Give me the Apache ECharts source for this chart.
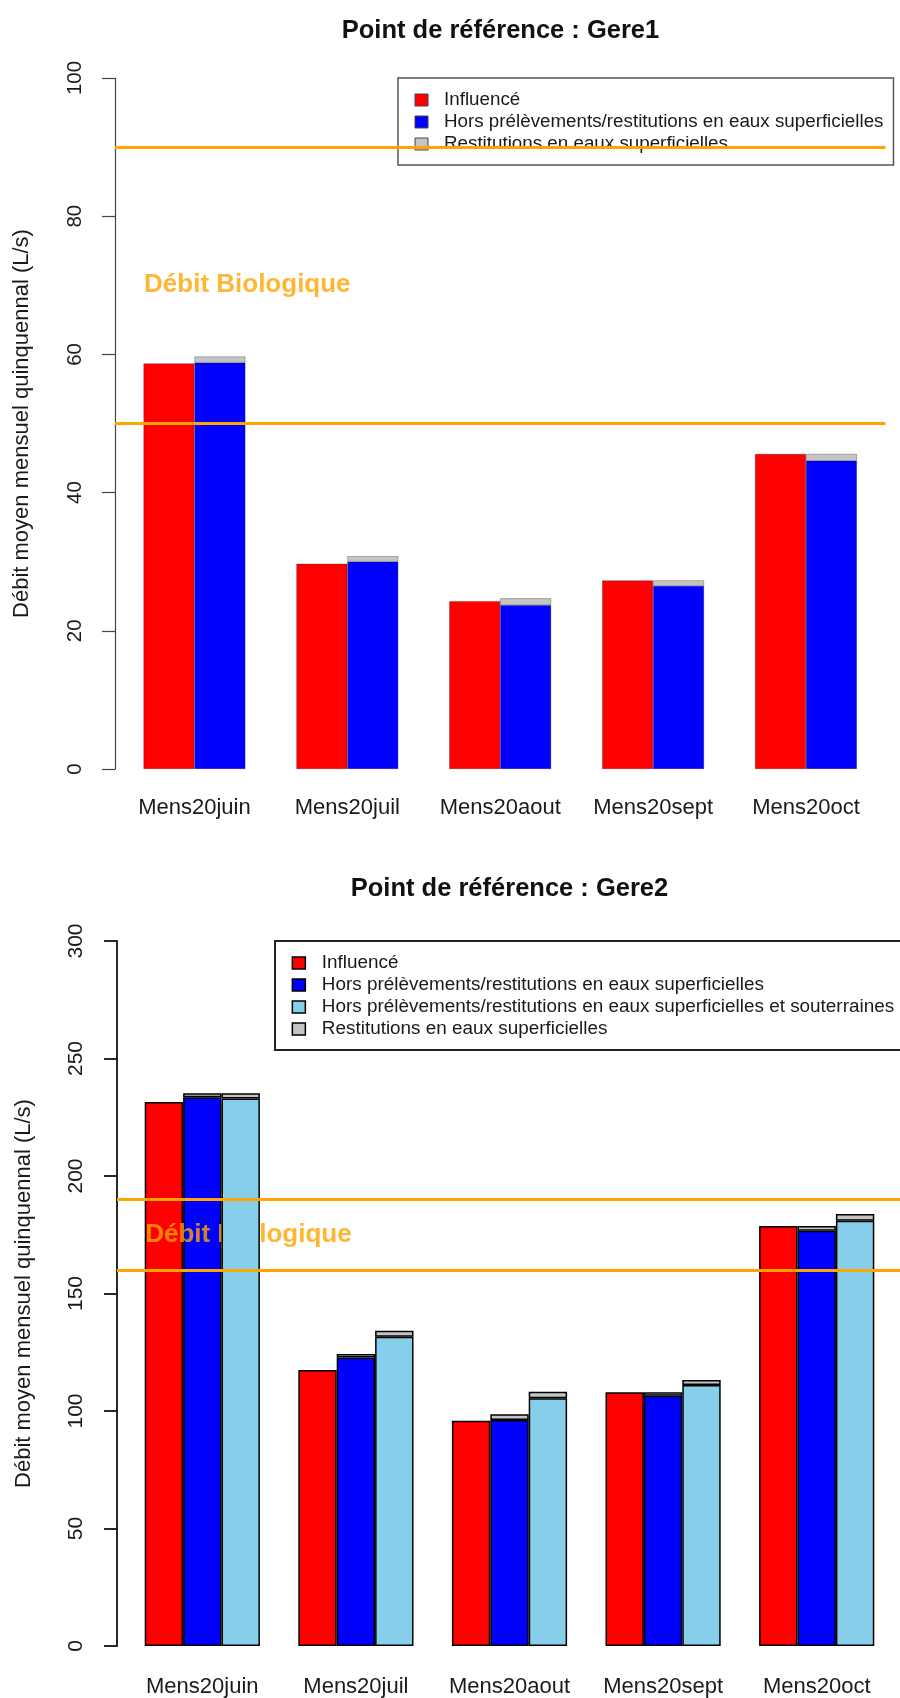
<!DOCTYPE html>
<html>
<head>
<meta charset="utf-8">
<script src="https://cdn.jsdelivr.net/npm/echarts@6/dist/echarts.min.js"></script>
<style>
html,body{margin:0;padding:0;background:#fff;}
#c{width:900px;height:1698px;}
</style>
</head>
<body>
<div id="c"></div>
<script>
// ---------- data ----------
const categories = ['Mens20juin', 'Mens20juil', 'Mens20aout', 'Mens20sept', 'Mens20oct'];
const titles = ['Point de référence : Gere1', 'Point de référence : Gere2'];
const yName = 'Débit moyen mensuel quinquennal (L/s)';
const bioLabel = 'Débit Biologique';

const nInfl = 'Influencé';
const nHorsSurf = 'Hors prélèvements/restitutions en eaux superficielles';
const nHorsSout = 'Hors prélèvements/restitutions en eaux superficielles et souterraines';
const nRestit = 'Restitutions en eaux superficielles';

// Gere1
const g1Influence = [58.7, 29.7, 24.3, 27.3, 45.6];
const g1HorsSurf  = [58.8, 30.0, 23.7, 26.5, 44.6];
const g1Restit    = [0.9, 0.8, 1.0, 0.8, 1.0];
const g1DebitBio  = [50, 90];
const g1Ticks     = [0, 20, 40, 60, 80, 100];
const g1BioLabelAt = [1, 70];

// Gere2
const g2Influence       = [231.5, 117.4, 95.9, 108.0, 178.7];
const g2HorsSurf        = [233.5, 122.8, 96.2, 106.5, 176.7];
const g2HorsSurfRestit  = [1.7, 1.5, 2.4, 1.5, 2.0];
const g2HorsSout        = [233.0, 131.6, 105.4, 111.1, 181.0];
const g2HorsSoutRestit  = [2.2, 2.6, 2.8, 2.1, 2.8];
const g2DebitBio  = [160, 190];
const g2Ticks     = [0, 50, 100, 150, 200, 250, 300];
const g2BioLabelAt = [1, 175];

// ---------- styles ----------
const FONT = "'Liberation Sans', Arial, Helvetica, sans-serif";
const TXT = '#1a1a1a';
const RED = '#FF0000', BLUE = '#0000FF', SKY = '#87CEEB', GREY = '#C4C4C4', ORANGE = '#FFA500';
const legendIcon = 'path://M0,0H13V12H0Z M24,12';

function bar(name, data, color, stack, axisIdx, width, border, z) {
  return {
    type: 'bar', name: name, data: data, stack: stack,
    xAxisIndex: axisIdx, yAxisIndex: axisIdx,
    barWidth: width, barGap: '0%', z: z,
    itemStyle: { color: color, borderColor: border.c, borderWidth: border.w },
    emphasis: { disabled: true }, silent: true, animation: false
  };
}

function bioSeries(axisIdx, at, lines, z) {
  return {
    type: 'scatter', xAxisIndex: axisIdx, yAxisIndex: axisIdx,
    data: [at], symbolSize: 1, z: z, silent: true, animation: false,
    itemStyle: { color: 'rgba(0,0,0,0)' },
    label: { show: true, formatter: bioLabel, position: 'right', distance: 0,
      align: 'left', verticalAlign: 'middle', fontSize: 26, fontWeight: 'bold',
      color: ORANGE, fontFamily: FONT },
    markLine: {
      silent: true, animation: false, symbol: ['none', 'none'], z: 6,
      label: { show: false }, emphasis: { disabled: true },
      lineStyle: { color: ORANGE, width: 3, type: 'solid' },
      data: lines.map(function (v) { return { yAxis: v }; })
    }
  };
}

function yAxisShown(gridIndex, ticks, axisColor, axisWidth, margin, labelSize) {
  return {
    type: 'value', gridIndex: gridIndex,
    min: ticks[0], max: ticks[ticks.length - 1], interval: ticks[1] - ticks[0],
    axisLine: { show: true, lineStyle: { color: axisColor, width: axisWidth } },
    axisTick: { show: true, inside: false, length: 13, lineStyle: { color: axisColor, width: axisWidth } },
    axisLabel: { show: true, rotate: 90, margin: margin, fontSize: labelSize, color: TXT, fontFamily: FONT },
    splitLine: { show: false },
    name: yName, nameLocation: 'middle', nameGap: 82, nameRotate: 90, nameMoveOverlap: false,
    nameTextStyle: { fontSize: 22, color: TXT, fontFamily: FONT }
  };
}

function catAxis(gridIndex, margin) {
  return {
    type: 'category', gridIndex: gridIndex, data: categories,
    axisLine: { show: false }, axisTick: { show: false }, splitLine: { show: false },
    axisLabel: { show: true, interval: 0, margin: margin, fontSize: 22, color: TXT, fontFamily: FONT }
  };
}

const b1 = { c: 'rgba(0,0,0,0.45)', w: 0.6 };
const b2 = { c: '#000', w: 1.5 };

const option = {
  animation: false,
  backgroundColor: '#ffffff',
  textStyle: { fontFamily: FONT },
  title: [
    { text: titles[0], left: 500.5, top: 18, textAlign: 'center', padding: 0,
      textStyle: { fontSize: 25.5, fontWeight: 'bold', color: '#111', fontFamily: FONT } },
    { text: titles[1], left: 509.5, top: 876, textAlign: 'center', padding: 0,
      textStyle: { fontSize: 25.5, fontWeight: 'bold', color: '#111', fontFamily: FONT } }
  ],
  legend: [
    { data: [nInfl, nHorsSurf, nRestit], orient: 'vertical', left: 398, top: 78,
      icon: legendIcon, itemWidth: 24, itemHeight: 12, itemGap: 0, selectedMode: false,
      padding: [11, 10, 10, 16.5], borderColor: '#555', borderWidth: 1.5, backgroundColor: 'transparent',
      itemStyle: { borderColor: '#444', borderWidth: 1 },
      textStyle: { fontSize: 18.8, lineHeight: 22, color: TXT, fontFamily: FONT } },
    { data: [nInfl, nHorsSurf, nHorsSout, nRestit], orient: 'vertical', left: 275, top: 941,
      icon: legendIcon, itemWidth: 25, itemHeight: 12, itemGap: 0, selectedMode: false,
      padding: [11, 10, 10, 16.6], borderColor: '#222', borderWidth: 2, backgroundColor: 'transparent',
      itemStyle: { borderColor: '#000', borderWidth: 1.5 },
      textStyle: { fontSize: 18.9, lineHeight: 22, color: TXT, fontFamily: FONT } }
  ],
  grid: [
    { left: 118, top: 78, width: 764.4, height: 691, outerBoundsMode: 'none', containLabel: false },
    { left: 115, top: 78, width: 770.5, height: 691, outerBoundsMode: 'none', containLabel: false },
    { left: 125.5, top: 941, width: 768, height: 705, outerBoundsMode: 'none', containLabel: false },
    { left: 117, top: 941, width: 786.4, height: 705, outerBoundsMode: 'none', containLabel: false }
  ],
  xAxis: [
    catAxis(0, 28),
    { type: 'value', gridIndex: 1, min: 0.44, max: 15.56, show: false },
    catAxis(2, 30),
    { type: 'value', gridIndex: 3, min: 0.28, max: 20.76, show: false }
  ],
  yAxis: [
    { type: 'value', gridIndex: 0, min: g1Ticks[0], max: g1Ticks[g1Ticks.length - 1], show: false },
    yAxisShown(1, g1Ticks, '#444', 1.2, 29.5, 20.5),
    { type: 'value', gridIndex: 2, min: g2Ticks[0], max: g2Ticks[g2Ticks.length - 1], show: false },
    yAxisShown(3, g2Ticks, '#111', 1.8, 30, 21)
  ],
  series: [
    // Gere1
    bar(nInfl, g1Influence, RED, 's1a', 0, 50.96, b1, 2),
    bar(nHorsSurf, g1HorsSurf, BLUE, 's1b', 0, 50.96, b1, 2),
    bar(nRestit, g1Restit, GREY, 's1b', 0, 50.96, b1, 2),
    bioSeries(1, g1BioLabelAt, g1DebitBio, 3),
    // Gere2
    bar(nInfl, g2Influence, RED, 's2a', 2, 38.4, b2, 2),
    bar(nHorsSurf, g2HorsSurf, BLUE, 's2b', 2, 38.4, b2, 2),
    bar(nRestit, g2HorsSurfRestit, GREY, 's2b', 2, 38.4, b2, 2),
    bar(nHorsSout, g2HorsSout, SKY, 's2c', 2, 38.4, b2, 4),
    bar(nRestit, g2HorsSoutRestit, GREY, 's2c', 2, 38.4, b2, 4),
    bioSeries(3, g2BioLabelAt, g2DebitBio, 3)
  ]
};

const chart = echarts.init(document.getElementById('c'), null, { renderer: 'canvas', width: 900, height: 1698 });
chart.setOption(option);
</script>
</body>
</html>
